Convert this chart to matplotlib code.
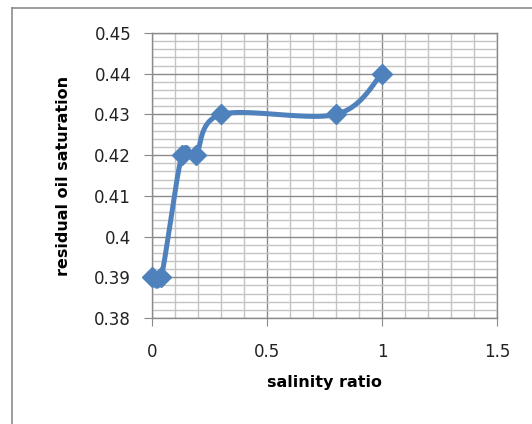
import numpy as np
import matplotlib
matplotlib.use("Agg")
import matplotlib.pyplot as plt
from matplotlib.lines import Line2D

salinity_ratio = [0.0, 0.04, 0.13, 0.19, 0.30, 0.80, 1.00]
residual_oil_saturation = [0.39, 0.39, 0.42, 0.42, 0.43, 0.43, 0.44]
x_ticks = [0, 0.5, 1, 1.5]
x_tick_labels = ["0", "0.5", "1", "1.5"]
y_ticks = [0.38, 0.39, 0.40, 0.41, 0.42, 0.43, 0.44, 0.45]
y_tick_labels = ["0.38", "0.39", "0.4", "0.41", "0.42", "0.43", "0.44", "0.45"]

LINE = "#4F81BD"

def smooth(xs, ys, n=40, t=1.0 / 6):
    # Excel-like smoothed line: cubic Bezier with Catmull-Rom control points
    xs = np.asarray(xs, float); ys = np.asarray(ys, float)
    px, py = [], []
    m = len(xs)
    for i in range(m - 1):
        i0 = max(i - 1, 0); i3 = min(i + 2, m - 1)
        p0 = np.array([xs[i], ys[i]]); p1 = np.array([xs[i + 1], ys[i + 1]])
        c1 = p0 + t * (p1 - np.array([xs[i0], ys[i0]]))
        c2 = p1 - t * (np.array([xs[i3], ys[i3]]) - p0)
        s = np.linspace(0, 1, n)[:, None]
        b = (1 - s) ** 3 * p0 + 3 * (1 - s) ** 2 * s * c1 + 3 * (1 - s) * s ** 2 * c2 + s ** 3 * p1
        px.extend(b[:, 0]); py.extend(b[:, 1])
    return np.array(px), np.array(py)

fig = plt.figure(figsize=(5.32, 4.24), dpi=100)
fig.patch.set_facecolor("white")

# outer frame (left and top edges visible)
fig.add_artist(Line2D([12 / 532, 12 / 532], [0, 1 - 8 / 424], transform=fig.transFigure, color="#8C8C8C", lw=1.2))
fig.add_artist(Line2D([12 / 532, 1], [1 - 8 / 424, 1 - 8 / 424], transform=fig.transFigure, color="#8C8C8C", lw=1.2))

ax = fig.add_axes([152 / 532, 1 - 318 / 424, (497 - 152) / 532, (318 - 33) / 424])
ax.set_xlim(0, 1.5)
ax.set_ylim(0.38, 0.45)
ax.set_xticks(x_ticks)
ax.set_xticklabels(x_tick_labels)
ax.set_yticks(y_ticks)
ax.set_yticklabels(y_tick_labels)
ax.set_xticks(np.arange(0, 1.5001, 0.1), minor=True)
ax.set_yticks(np.arange(0.38, 0.45001, 0.002), minor=True)
ax.grid(which="minor", color="#C4C4C4", lw=1.0)
ax.grid(which="major", color="#8A8A8A", lw=1.0)
ax.set_axisbelow(True)
for s in ax.spines.values():
    s.set_color("#8A8A8A"); s.set_linewidth(1.0)
ax.tick_params(which="major", length=6, color="#8A8A8A", labelsize=12, labelcolor="#222222")
ax.tick_params(axis="x", which="major", pad=12)
ax.tick_params(axis="y", which="major", pad=9)
ax.tick_params(which="minor", length=0)

sx, sy = smooth(salinity_ratio, residual_oil_saturation)
ax.plot(sx, sy, color=LINE, lw=3.6, solid_capstyle="round", zorder=3)
ax.plot(salinity_ratio, residual_oil_saturation, ls="none", marker="D", ms=10, color=LINE, zorder=4, clip_on=False)

ax.set_xlabel("salinity ratio", fontsize=11.5, fontweight="bold", labelpad=10)
ax.set_ylabel("residual oil saturation", fontsize=11.5, fontweight="bold", labelpad=17)

fig.savefig("out.png", dpi=100)
